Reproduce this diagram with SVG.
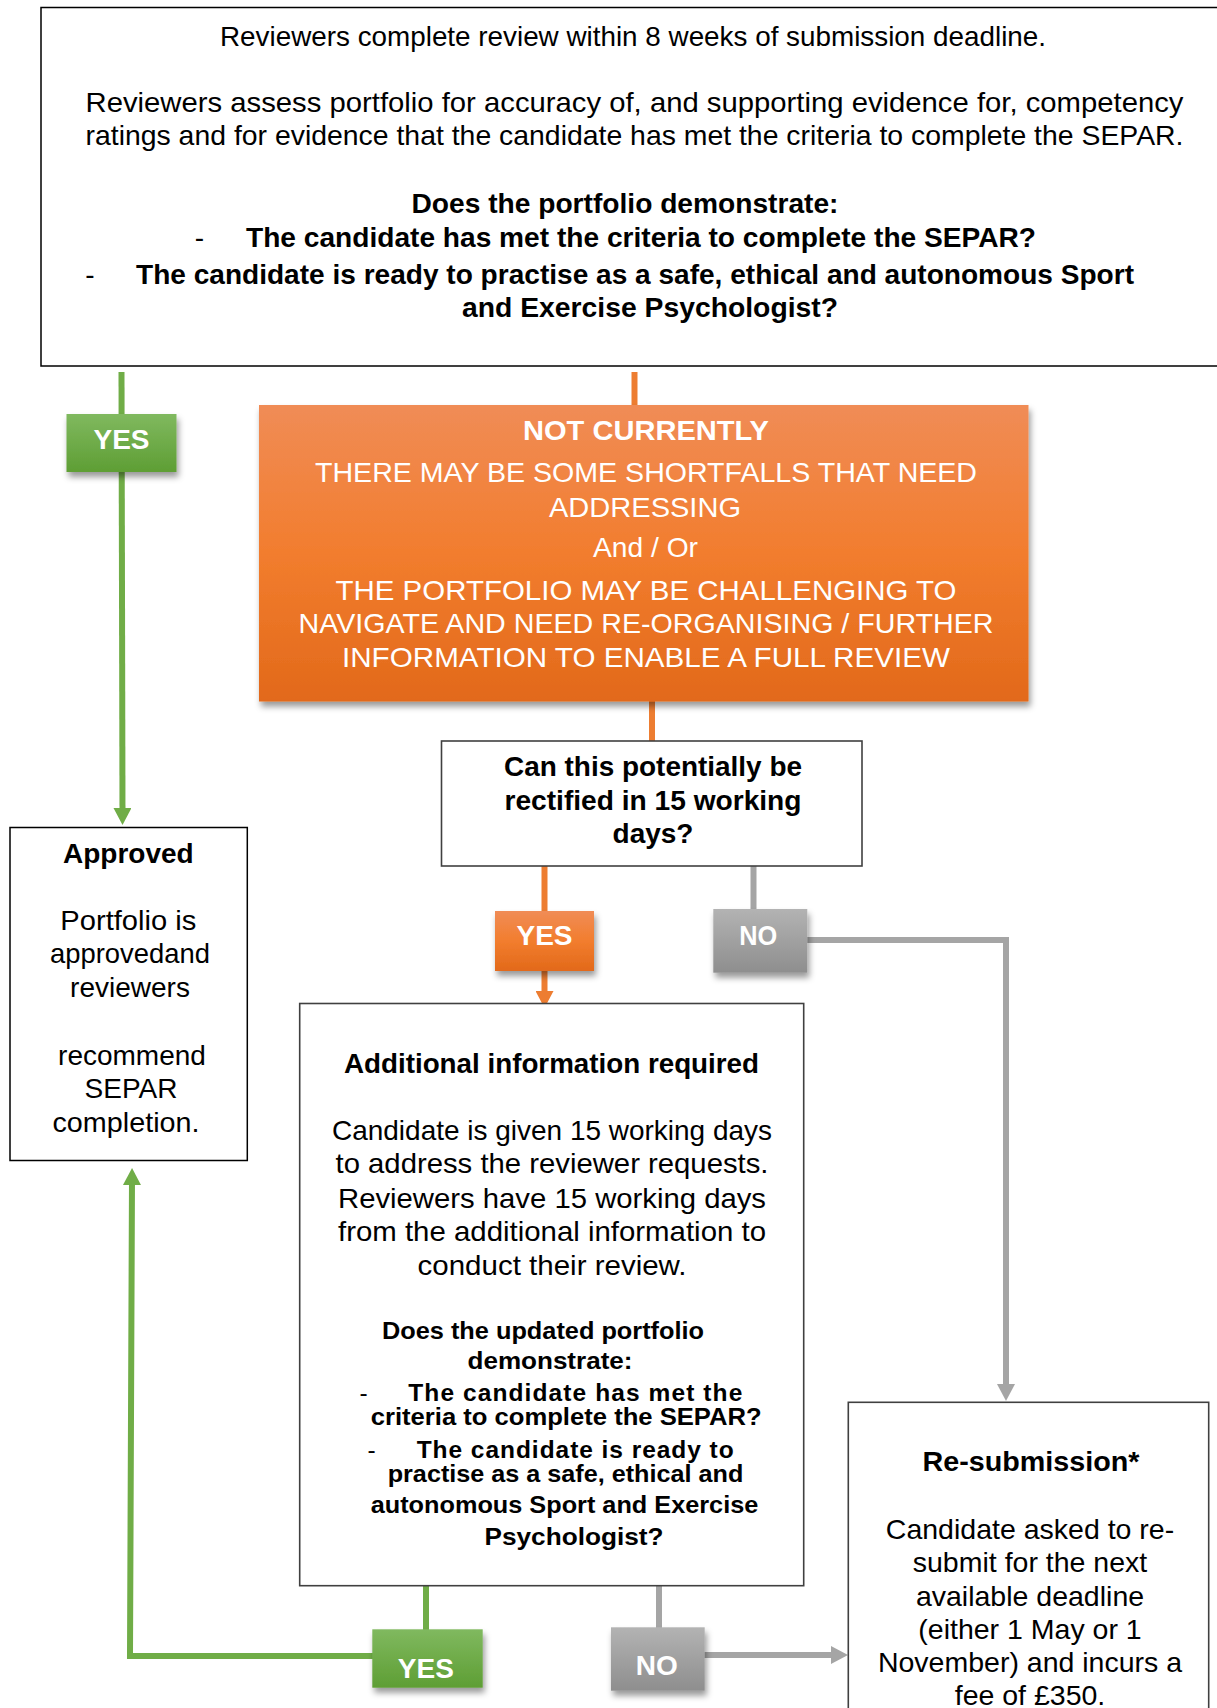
<svg xmlns="http://www.w3.org/2000/svg" width="1217" height="1708" viewBox="0 0 1217 1708">
<style>
.box{fill:#fff;stroke:#000;stroke-width:1.5}
.box2{fill:#fff;stroke:#404040;stroke-width:1.6}
.t{font-family:"Liberation Sans",Arial,sans-serif;font-size:28px;fill:#000}
.c{text-anchor:middle}
.b{font-weight:bold}
.s{font-size:24.5px}
.r{font-size:28.5px}
.w{fill:#fff}
.con{fill:none;stroke-width:6}
.g{stroke:#70AD47}
.o{stroke:#ED7D31}
.k{stroke:#A5A5A5}
</style>
<defs>
<linearGradient id="gG" x1="0" y1="0" x2="0" y2="1"><stop offset="0" stop-color="#80B95F"/><stop offset="1" stop-color="#5E9E34"/></linearGradient>
<linearGradient id="gO" x1="0" y1="0" x2="0" y2="1"><stop offset="0" stop-color="#F08C56"/><stop offset="0.5" stop-color="#F27D2E"/><stop offset="1" stop-color="#E2691A"/></linearGradient>
<linearGradient id="gK" x1="0" y1="0" x2="0" y2="1"><stop offset="0" stop-color="#B3B3B3"/><stop offset="1" stop-color="#8E8E8E"/></linearGradient>
<filter id="sh" x="-20%" y="-20%" width="140%" height="160%"><feDropShadow dx="2" dy="5" stdDeviation="3" flood-color="#000" flood-opacity="0.4"/></filter>
<marker id="aG" markerUnits="userSpaceOnUse" markerWidth="17" markerHeight="18" refX="7" refY="9" orient="auto"><path d="M0,0 L17,9 L0,18 z" fill="#70AD47"/></marker>
<marker id="aO" markerUnits="userSpaceOnUse" markerWidth="17" markerHeight="18" refX="7" refY="9" orient="auto"><path d="M0,0 L17,9 L0,18 z" fill="#ED7D31"/></marker>
<marker id="aK" markerUnits="userSpaceOnUse" markerWidth="17" markerHeight="18" refX="7" refY="9" orient="auto"><path d="M0,0 L17,9 L0,18 z" fill="#A5A5A5"/></marker>
</defs>
<rect width="1217" height="1708" fill="#fff"/>

<g id="connectors">
<path class="con g" d="M121.5,372 L122.5,815" marker-end="url(#aG)"/>
<path class="con o" d="M634.5,372 V406"/>
<path class="con o" d="M652,701 V742"/>
<path class="con o" d="M544.5,866 V998" marker-end="url(#aO)"/>
<path class="con k" d="M753.5,866 V940 H1006 V1391" marker-end="url(#aK)"/>
<path class="con g" d="M426,1586 V1656 H130 L132,1178" marker-end="url(#aG)"/>
<path class="con k" d="M659,1586 V1655 H838" marker-end="url(#aK)"/>
</g>

<g id="review">
<rect class="box" x="41" y="7.5" width="1190" height="358.5"/>
<text class="t c" x="633" y="45.5" textLength="826" lengthAdjust="spacingAndGlyphs">Reviewers complete review within 8 weeks of submission deadline.</text>
<text class="t c" x="634.5" y="112" textLength="1098" lengthAdjust="spacingAndGlyphs">Reviewers assess portfolio for accuracy of, and supporting evidence for, competency</text>
<text class="t c" x="634.5" y="145" textLength="1098" lengthAdjust="spacingAndGlyphs">ratings and for evidence that the candidate has met the criteria to complete the SEPAR.</text>
<text class="t c b" x="625" y="213" textLength="427" lengthAdjust="spacingAndGlyphs">Does the portfolio demonstrate:</text>
<text class="t c" x="199.5" y="247">-</text>
<text class="t b" x="246" y="247" textLength="790" lengthAdjust="spacingAndGlyphs">The candidate has met the criteria to complete the SEPAR?</text>
<text class="t c" x="90" y="284">-</text>
<text class="t b" x="136" y="284" textLength="998" lengthAdjust="spacingAndGlyphs">The candidate is ready to practise as a safe, ethical and autonomous Sport</text>
<text class="t c b" x="650" y="317" textLength="376" lengthAdjust="spacingAndGlyphs">and Exercise Psychologist?</text>
</g>

<g id="yes-top">
<rect x="66.5" y="414" width="110" height="58" fill="url(#gG)" filter="url(#sh)"/>
<text class="t c b w" x="121.5" y="448.5">YES</text>
</g>

<g id="not-currently">
<rect x="259" y="405" width="769.5" height="296.5" fill="url(#gO)" filter="url(#sh)"/>
<text class="t c b w" x="646" y="440" textLength="246" lengthAdjust="spacingAndGlyphs">NOT CURRENTLY</text>
<text class="t c w" x="646" y="481.5" textLength="662" lengthAdjust="spacingAndGlyphs">THERE MAY BE SOME SHORTFALLS THAT NEED</text>
<text class="t c w" x="645" y="516.5" textLength="192" lengthAdjust="spacingAndGlyphs">ADDRESSING</text>
<text class="t c w" x="645.5" y="557" textLength="105" lengthAdjust="spacingAndGlyphs">And / Or</text>
<text class="t c w" x="646" y="599.5" textLength="621" lengthAdjust="spacingAndGlyphs">THE PORTFOLIO MAY BE CHALLENGING TO</text>
<text class="t c w" x="646" y="633" textLength="695" lengthAdjust="spacingAndGlyphs">NAVIGATE AND NEED RE-ORGANISING / FURTHER</text>
<text class="t c w" x="646" y="667" textLength="608" lengthAdjust="spacingAndGlyphs">INFORMATION TO ENABLE A FULL REVIEW</text>
</g>

<g id="rectify">
<rect class="box2" x="441.5" y="741" width="420.5" height="125"/>
<text class="t c b" x="653" y="775.5" textLength="298" lengthAdjust="spacingAndGlyphs">Can this potentially be</text>
<text class="t c b" x="653" y="809.5" textLength="297" lengthAdjust="spacingAndGlyphs">rectified in 15 working</text>
<text class="t c b" x="653" y="843">days?</text>
</g>

<g id="yes-mid">
<rect x="495" y="911" width="99" height="60" fill="url(#gO)" filter="url(#sh)"/>
<text class="t c b w" x="544.5" y="945">YES</text>
</g>

<g id="no-mid">
<rect x="713.3" y="909" width="94" height="63.7" fill="url(#gK)" filter="url(#sh)"/>
<text class="t c b w" x="758.3" y="944.5" textLength="38" lengthAdjust="spacingAndGlyphs">NO</text>
</g>

<g id="approved">
<rect class="box" x="10" y="827.5" width="237.3" height="333"/>
<text class="t c b" x="128.3" y="862.5">Approved</text>
<text class="t c" x="128.3" y="930" textLength="136" lengthAdjust="spacingAndGlyphs">Portfolio is</text>
<text class="t c" x="130" y="963.3" textLength="160" lengthAdjust="spacingAndGlyphs">approvedand</text>
<text class="t c" x="130" y="996.7">reviewers</text>
<text class="t c" x="132" y="1065">recommend</text>
<text class="t c" x="131" y="1098.3">SEPAR</text>
<text class="t c" x="126" y="1131.7" textLength="147" lengthAdjust="spacingAndGlyphs">completion.</text>
</g>

<g id="additional">
<rect class="box2" x="299.7" y="1003.5" width="504" height="582.2"/>
<text class="t c b" x="551.5" y="1072.5" textLength="415" lengthAdjust="spacingAndGlyphs">Additional information required</text>
<text class="t c" x="552" y="1140" textLength="440" lengthAdjust="spacingAndGlyphs">Candidate is given 15 working days</text>
<text class="t c" x="552" y="1173" textLength="433" lengthAdjust="spacingAndGlyphs">to address the reviewer requests.</text>
<text class="t c" x="552" y="1207.5" textLength="428" lengthAdjust="spacingAndGlyphs">Reviewers have 15 working days</text>
<text class="t c" x="552" y="1241" textLength="428" lengthAdjust="spacingAndGlyphs">from the additional information to</text>
<text class="t c" x="552" y="1274.5" textLength="269" lengthAdjust="spacingAndGlyphs">conduct their review.</text>
<text class="t c b s" x="543" y="1339.3" textLength="322" lengthAdjust="spacingAndGlyphs">Does the updated portfolio</text>
<text class="t c b s" x="550" y="1369.3" textLength="165" lengthAdjust="spacingAndGlyphs">demonstrate:</text>
<text class="t c s" x="363.5" y="1400.7">-</text>
<text class="t b s" x="408.3" y="1400.7" textLength="334" lengthAdjust="spacing">The candidate has met the</text>
<text class="t b s" x="370.7" y="1425" textLength="391" lengthAdjust="spacingAndGlyphs">criteria to complete the SEPAR?</text>
<text class="t c s" x="371.5" y="1457.7">-</text>
<text class="t b s" x="416.7" y="1457.7" textLength="317" lengthAdjust="spacing">The candidate is ready to</text>
<text class="t b s" x="387.7" y="1481.5" textLength="355.6" lengthAdjust="spacingAndGlyphs">practise as a safe, ethical and</text>
<text class="t b s" x="370.7" y="1513.3" textLength="387.6" lengthAdjust="spacingAndGlyphs">autonomous Sport and Exercise</text>
<text class="t c b s" x="574" y="1545" textLength="179" lengthAdjust="spacingAndGlyphs">Psychologist?</text>
</g>

<g id="resubmission">
<rect class="box2" x="848.3" y="1402.3" width="360.4" height="320"/>
<text class="t c b" x="1031" y="1470.5" textLength="217" lengthAdjust="spacingAndGlyphs">Re-submission*</text>
<text class="t c r" x="1030" y="1539">Candidate asked to re-</text>
<text class="t c r" x="1030" y="1572.3">submit for the next</text>
<text class="t c r" x="1030" y="1605.5">available deadline</text>
<text class="t c r" x="1030" y="1638.6">(either 1 May or 1</text>
<text class="t c r" x="1030" y="1671.8">November) and incurs a</text>
<text class="t c r" x="1030" y="1705">fee of £350.</text>
</g>

<g id="yes-bottom">
<rect x="372.3" y="1629.3" width="110.4" height="58.4" fill="url(#gG)" filter="url(#sh)"/>
<text class="t c b w" x="425.8" y="1677.5">YES</text>
</g>

<g id="no-bottom">
<rect x="611" y="1627.3" width="93.7" height="63.4" fill="url(#gK)" filter="url(#sh)"/>
<text class="t c b w" x="656.7" y="1675">NO</text>
</g>
</svg>
